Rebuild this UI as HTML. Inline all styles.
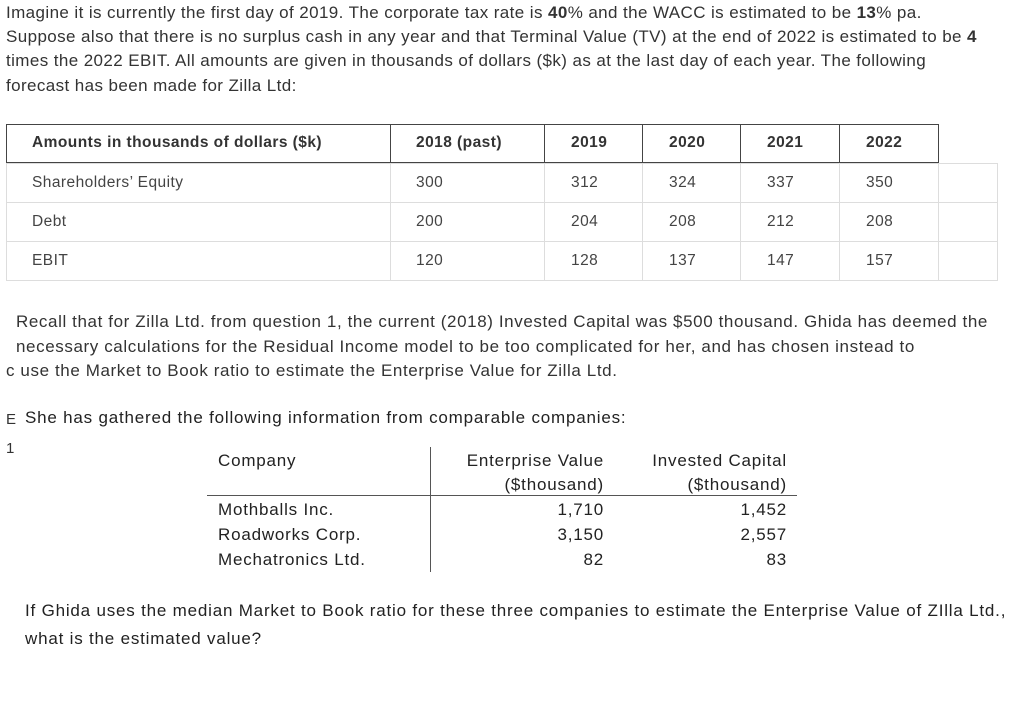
<!DOCTYPE html>
<html><head><meta charset="utf-8"><style>
body{margin:0;width:1020px;height:707px;background:#fff;position:relative;overflow:hidden;font-family:"Liberation Sans",sans-serif;color:#333}
.t{position:absolute;white-space:nowrap;font-size:17px;line-height:24px;letter-spacing:0.4px}
.t2{letter-spacing:0.6px}
.c{position:absolute;white-space:nowrap;font-size:15.5px;color:#444;letter-spacing:0.45px}
.h{font-weight:bold;color:#333}
.ln{position:absolute;background:#ddd}
.dk{position:absolute;background:#444}
.k{position:absolute;white-space:nowrap;font-size:17px;color:#222;line-height:25px;letter-spacing:0.8px}
</style></head><body>
<div>
<div class="t" style="left:6px;top:1px">Imagine it is currently the first day of 2019. The corporate tax rate is <b>40</b>% and the WACC is estimated to be <b>13</b>% pa.</div>
<div class="t" style="left:6px;top:25px">Suppose also that there is no surplus cash in any year and that Terminal Value (TV) at the end of 2022 is estimated to be <b>4</b></div>
<div class="t" style="left:6px;top:49px">times the 2022 EBIT. All amounts are given in thousands of dollars ($k) as at the last day of each year. The following</div>
<div class="t" style="left:6px;top:74px">forecast has been made for Zilla Ltd:</div>
</div>
<div>
<div class="ln" style="left:6px;top:163px;width:991px;height:1px"></div>
<div class="ln" style="left:6px;top:202px;width:991px;height:1px"></div>
<div class="ln" style="left:6px;top:241px;width:991px;height:1px"></div>
<div class="ln" style="left:6px;top:280px;width:991px;height:1px"></div>
<div class="ln" style="left:6px;top:163px;width:1px;height:118px"></div>
<div class="ln" style="left:390px;top:163px;width:1px;height:118px"></div>
<div class="ln" style="left:544px;top:163px;width:1px;height:118px"></div>
<div class="ln" style="left:642px;top:163px;width:1px;height:118px"></div>
<div class="ln" style="left:740px;top:163px;width:1px;height:118px"></div>
<div class="ln" style="left:839px;top:163px;width:1px;height:118px"></div>
<div class="ln" style="left:938px;top:163px;width:1px;height:118px"></div>
<div class="ln" style="left:997px;top:163px;width:1px;height:118px"></div>
<div class="dk" style="left:6px;top:124px;width:933px;height:1px"></div>
<div class="dk" style="left:6px;top:162px;width:933px;height:1px"></div>
<div class="dk" style="left:6px;top:124px;width:1px;height:39px"></div>
<div class="dk" style="left:390px;top:124px;width:1px;height:39px"></div>
<div class="dk" style="left:544px;top:124px;width:1px;height:39px"></div>
<div class="dk" style="left:642px;top:124px;width:1px;height:39px"></div>
<div class="dk" style="left:740px;top:124px;width:1px;height:39px"></div>
<div class="dk" style="left:839px;top:124px;width:1px;height:39px"></div>
<div class="dk" style="left:938px;top:124px;width:1px;height:39px"></div>
<div class="c h" style="left:32px;top:134px">Amounts in thousands of dollars ($k)</div>
<div class="c h" style="left:416px;top:134px">2018 (past)</div>
<div class="c h" style="left:571px;top:134px">2019</div>
<div class="c h" style="left:669px;top:134px">2020</div>
<div class="c h" style="left:767px;top:134px">2021</div>
<div class="c h" style="left:866px;top:134px">2022</div>
<div class="c" style="left:32px;top:174px">Shareholders’ Equity</div>
<div class="c" style="left:416px;top:174px">300</div><div class="c" style="left:571px;top:174px">312</div><div class="c" style="left:669px;top:174px">324</div><div class="c" style="left:767px;top:174px">337</div><div class="c" style="left:866px;top:174px">350</div>
<div class="c" style="left:32px;top:213px">Debt</div>
<div class="c" style="left:416px;top:213px">200</div><div class="c" style="left:571px;top:213px">204</div><div class="c" style="left:669px;top:213px">208</div><div class="c" style="left:767px;top:213px">212</div><div class="c" style="left:866px;top:213px">208</div>
<div class="c" style="left:32px;top:252px">EBIT</div>
<div class="c" style="left:416px;top:252px">120</div><div class="c" style="left:571px;top:252px">128</div><div class="c" style="left:669px;top:252px">137</div><div class="c" style="left:767px;top:252px">147</div><div class="c" style="left:866px;top:252px">157</div>
</div>
<div>
<div class="t t2" style="left:16px;top:310px">Recall that for Zilla Ltd. from question 1, the current (2018) Invested Capital was $500 thousand. Ghida has deemed the</div>
<div class="t t2" style="left:16px;top:335px">necessary calculations for the Residual Income model to be too complicated for her, and has chosen instead to</div>
<div class="t t2" style="left:6px;top:359px">c use the Market to Book ratio to estimate the Enterprise Value for Zilla Ltd.</div>
<div class="t" style="left:6px;top:408px;font-size:15px">E</div>
<div class="t" style="left:6px;top:437px;font-size:15px">1</div>
<div class="k" style="left:25px;top:405px">She has gathered the following information from comparable companies:</div>
</div>
<div>
<div class="dk" style="left:430px;top:447px;width:1px;height:125px;background:#555"></div>
<div class="dk" style="left:207px;top:495px;width:590px;height:1px;background:#555"></div>
<div class="k" style="left:218px;top:448px">Company</div>
<div class="k" style="left:404px;top:448px;width:200px;text-align:right">Enterprise Value</div>
<div class="k" style="left:404px;top:472px;width:200px;text-align:right">($thousand)</div>
<div class="k" style="left:587px;top:448px;width:200px;text-align:right">Invested Capital</div>
<div class="k" style="left:587px;top:472px;width:200px;text-align:right">($thousand)</div>
<div class="k" style="left:218px;top:497px">Mothballs Inc.</div>
<div class="k" style="left:218px;top:522px">Roadworks Corp.</div>
<div class="k" style="left:218px;top:547px">Mechatronics Ltd.</div>
<div class="k" style="left:404px;top:497px;width:200px;text-align:right">1,710</div>
<div class="k" style="left:404px;top:522px;width:200px;text-align:right">3,150</div>
<div class="k" style="left:404px;top:547px;width:200px;text-align:right">82</div>
<div class="k" style="left:587px;top:497px;width:200px;text-align:right">1,452</div>
<div class="k" style="left:587px;top:522px;width:200px;text-align:right">2,557</div>
<div class="k" style="left:587px;top:547px;width:200px;text-align:right">83</div>
</div>
<div>
<div class="k" style="left:25px;top:598px">If Ghida uses the median Market to Book ratio for these three companies to estimate the Enterprise Value of ZIlla Ltd.,</div>
<div class="k" style="left:25px;top:626px">what is the estimated value?</div>
</div>
</body></html>
